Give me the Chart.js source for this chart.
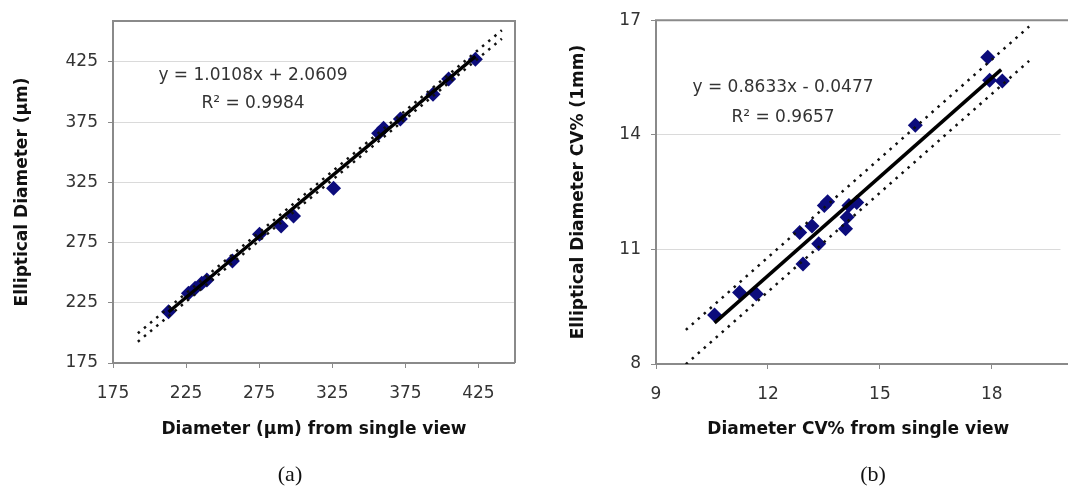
<!DOCTYPE html>
<html>
<head>
<meta charset="utf-8">
<script src="https://cdn.jsdelivr.net/npm/chart.js@4.4.0/dist/chart.umd.min.js"></script>
<style>
  html, body { margin: 0; padding: 0; background: #fff; overflow: hidden; }
  body { width: 1068px; height: 496px; position: relative; }
  .panel { position: absolute; top: 0; width: 534px; height: 496px; }
  .tag { position: absolute; top: 461px; font-family: "Liberation Serif", serif; font-size: 22px; color: #111; transform: translateX(-50%); }
</style>
</head>
<body>
<div class="panel" style="left:0"><canvas id="chartA"></canvas></div>
<div class="panel" style="left:534px"><canvas id="chartB"></canvas></div>
<div class="tag" style="left:290px">(a)</div>
<div class="tag" style="left:873px">(b)</div>
<script>
// (a) diametre a partir d'une seule vue vs diametre elliptique
var diamA = [213, 226.6, 231.2, 235.7, 239.2, 256.7, 275.2, 290, 298.5, 325.9, 356.7, 360.1, 371.6, 393.9, 404.6, 422.9];
var ellipA = [217.6, 232.9, 237, 241.2, 244, 259.7, 281.9, 288.8, 297.1, 320.1, 365.7, 369.9, 377.6, 398.1, 410.9, 427.2];
var ticksA = [175, 225, 275, 325, 375, 425];
var slopeA = 1.0108, interA = 2.0609;
var fitRangeA = [213, 423];
var bandRangeA = [192, 441];
var bandOffsA = [3.5, -3.5];

// (b) CV% a partir d'une seule vue vs CV% elliptique
var cvB = [10.57, 11.24, 11.69, 12.85, 12.94, 13.18, 13.36, 13.51, 13.6, 14.08, 14.12, 14.17, 14.38, 15.95, 17.89, 17.94, 18.28];
var ellipB = [9.28, 9.87, 9.83, 11.44, 10.62, 11.61, 11.15, 12.15, 12.25, 11.54, 11.84, 12.15, 12.23, 14.25, 16.03, 15.43, 15.41];
var xTicksB = [9, 12, 15, 18];
var yTicksB = [8, 11, 14, 17];
var slopeB = 0.8633, interB = -0.0477;
var fitRangeB = [10.57, 18.25];
var bandRangeB = [9.8, 19.0];
var bandOffsB = [0.48, -0.42];

var FONT = 'DejaVu Sans';

function toPoints(xs, ys) {
    var pts = [];
    for (var i = 0; i < xs.length; i++) pts.push({ x: xs[i], y: ys[i] });
    return pts;
}
function lineFrom(slope, inter, range, offs) {
    return range.map(function (x) { return { x: x, y: slope * x + inter + offs }; });
}

// cadre gris autour de la zone du graphique + texte de l'equation
var framePlugin = {
    id: 'frame',
    beforeDatasetsDraw: function (chart, args, opts) {
        var a = chart.chartArea, ctx = chart.ctx;
        var right = opts.openRight ? a.right + 10 : a.right;
        ctx.save();
        ctx.strokeStyle = '#8a8a8a';
        ctx.lineWidth = 2;
        ctx.beginPath();
        ctx.moveTo(a.left, a.bottom);
        ctx.lineTo(a.left, a.top);
        ctx.lineTo(right, a.top);
        if (!opts.openRight) ctx.lineTo(a.right, a.bottom);
        ctx.moveTo(a.left, a.bottom);
        ctx.lineTo(right, a.bottom);
        ctx.stroke();
        ctx.restore();
    },
    afterDraw: function (chart, args, opts) {
        var ctx = chart.ctx;
        ctx.save();
        ctx.fillStyle = '#333';
        ctx.font = '17px "' + FONT + '"';
        ctx.textAlign = 'center';
        ctx.textBaseline = 'middle';
        opts.lines.forEach(function (l) { ctx.fillText(l.text, l.x, l.y); });
        ctx.restore();
    }
};

function makeChart(id, cfg) {
    var tickFont = { family: FONT, size: 17 };
    var titleFont = { family: FONT, size: 17, weight: 'bold' };
    return new Chart(document.getElementById(id), {
        type: 'scatter',
        data: {
            datasets: [
                { data: cfg.fit, showLine: true, borderColor: '#000', borderWidth: 3.5, pointRadius: 0 },
                { data: cfg.bandHi, showLine: true, borderColor: '#111', borderWidth: 2.5, borderDash: [2.5, 5.5], pointRadius: 0 },
                { data: cfg.bandLo, showLine: true, borderColor: '#111', borderWidth: 2.5, borderDash: [2.5, 5.5], pointRadius: 0 },
                { data: cfg.points, pointStyle: 'rectRot', pointRadius: 7.5, backgroundColor: '#0c0c7c', borderColor: '#0c0c7c', borderWidth: 0 }
            ]
        },
        options: {
            responsive: true,
            maintainAspectRatio: false,
            animation: false,
            layout: { padding: cfg.padding },
            plugins: {
                legend: { display: false },
                tooltip: { enabled: false },
                frame: { lines: cfg.eq, openRight: cfg.openRight }
            },
            scales: {
                x: {
                    type: 'linear', min: cfg.xMin, max: cfg.xMax,
                    afterBuildTicks: function (s) { s.ticks = cfg.xTicks.map(function (v) { return { value: v }; }); },
                    afterFit: function (s) { s.height = cfg.xHeight; },
                    border: { display: false },
                    grid: { drawOnChartArea: false, drawTicks: true, tickLength: 5, tickColor: '#8a8a8a' },
                    ticks: { font: tickFont, color: '#333', padding: 15, maxRotation: 0 },
                    title: { display: true, text: cfg.xTitle, font: titleFont, color: '#111', padding: { top: 0, bottom: cfg.xTitlePad } }
                },
                y: {
                    type: 'linear', min: cfg.yMin, max: cfg.yMax,
                    afterBuildTicks: function (s) { s.ticks = cfg.yTicks.map(function (v) { return { value: v }; }); },
                    afterFit: function (s) { s.width = cfg.yWidth; },
                    border: { display: false },
                    grid: { color: '#dadada', lineWidth: 1, tickLength: 5, tickColor: '#8a8a8a' },
                    ticks: { font: tickFont, color: '#333', padding: 10 },
                    title: { display: true, text: cfg.yTitle, font: titleFont, color: '#111', padding: 0 }
                }
            }
        },
        plugins: [framePlugin]
    });
}

makeChart('chartA', {
    points: toPoints(diamA, ellipA),
    fit: lineFrom(slopeA, interA, fitRangeA, 0),
    bandHi: lineFrom(slopeA, interA, bandRangeA, bandOffsA[0]),
    bandLo: lineFrom(slopeA, interA, bandRangeA, bandOffsA[1]),
    xMin: 175, xMax: 450, yMin: 175, yMax: 459,
    xTicks: ticksA, yTicks: ticksA,
    xTitle: 'Diameter (µm) from single view',
    yTitle: 'Elliptical Diameter (µm)',
    padding: { top: 21, right: 19, bottom: 0, left: 12 },
    xHeight: 133, yWidth: 101, xTitlePad: 56,
    openRight: false,
    eq: [{ text: 'y = 1.0108x + 2.0609', x: 253, y: 76 }, { text: 'R² = 0.9984', x: 253, y: 104 }]
});

makeChart('chartB', {
    points: toPoints(cvB, ellipB),
    fit: lineFrom(slopeB, interB, fitRangeB, 0),
    bandHi: lineFrom(slopeB, interB, bandRangeB, bandOffsB[0]),
    bandLo: lineFrom(slopeB, interB, bandRangeB, bandOffsB[1]),
    xMin: 9, xMax: 19.84, yMin: 8, yMax: 17,
    xTicks: xTicksB, yTicks: yTicksB,
    xTitle: 'Diameter CV% from single view',
    yTitle: 'Elliptical Diameter CV% (1mm)',
    padding: { top: 19, right: 0, bottom: 0, left: 34 },
    xHeight: 132, yWidth: 88, xTitlePad: 56,
    openRight: true,
    eq: [{ text: 'y = 0.8633x - 0.0477', x: 249, y: 88 }, { text: 'R² = 0.9657', x: 249, y: 118 }]
});
</script>
</body>
</html>
